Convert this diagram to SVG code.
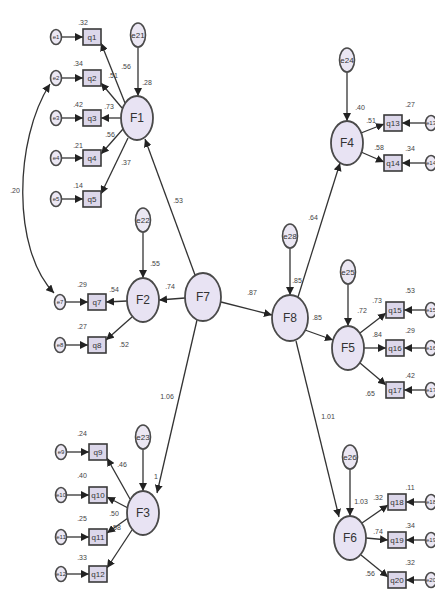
<svg xmlns="http://www.w3.org/2000/svg" width="435" height="596" viewBox="0 0 435 596">
<defs>
<marker id="ah" viewBox="0 0 10 10" refX="10" refY="5" markerWidth="8" markerHeight="8" orient="auto" markerUnits="userSpaceOnUse"><path d="M0,0 L10,5 L0,10 z" fill="#222"/></marker>
<marker id="ahs" viewBox="0 0 10 10" refX="0" refY="5" markerWidth="8" markerHeight="8" orient="auto" markerUnits="userSpaceOnUse"><path d="M10,0 L0,5 L10,10 z" fill="#222"/></marker>
</defs>
<style>
.lat{fill:#e8e3f3;stroke:#4a4a4a;stroke-width:1.8}
.err{fill:#ebe7f3;stroke:#4a4a4a;stroke-width:1.6}
.obs{fill:#dcd7ea;stroke:#3a3a3a;stroke-width:1.6}
.c line,.c path{stroke:#333;stroke-width:1.3;fill:none}
.lt{font-family:"Liberation Sans",Arial,sans-serif;font-size:12px;fill:#333;text-anchor:middle;dominant-baseline:central}
.st{font-family:"Liberation Sans",Arial,sans-serif;font-size:8px;fill:#333;text-anchor:middle;dominant-baseline:central}
.et{font-family:"Liberation Sans",Arial,sans-serif;font-size:6px;fill:#333;text-anchor:middle;dominant-baseline:central}
.lb{font-family:"Liberation Sans",Arial,sans-serif;font-size:7px;fill:#444;text-anchor:middle;dominant-baseline:central}
</style>
<rect width="435" height="596" fill="#fff"/>
<g class="c" id="connectors">
<line x1="61.5" y1="37" x2="83" y2="37" marker-end="url(#ah)"/>
<line x1="61.5" y1="78" x2="83" y2="78" marker-end="url(#ah)"/>
<line x1="61.5" y1="118" x2="83" y2="118" marker-end="url(#ah)"/>
<line x1="61.5" y1="158" x2="83" y2="158" marker-end="url(#ah)"/>
<line x1="61.5" y1="199" x2="83" y2="199" marker-end="url(#ah)"/>
<line x1="125" y1="103" x2="101" y2="43" marker-end="url(#ah)"/>
<line x1="122" y1="108" x2="101" y2="83" marker-end="url(#ah)"/>
<line x1="121" y1="118" x2="101" y2="118" marker-end="url(#ah)"/>
<line x1="123" y1="129" x2="101" y2="154" marker-end="url(#ah)"/>
<line x1="128" y1="138" x2="101" y2="194" marker-end="url(#ah)"/>
<line x1="138" y1="47" x2="138" y2="96" marker-end="url(#ah)"/>
<path d="M50,84 C14,140 12,250 54,293" marker-start="url(#ahs)" marker-end="url(#ah)"/>
<line x1="195" y1="275" x2="145" y2="139" marker-end="url(#ah)"/>
<line x1="185" y1="298" x2="159" y2="300" marker-end="url(#ah)"/>
<line x1="197" y1="320" x2="157" y2="493" marker-end="url(#ah)"/>
<line x1="221" y1="302" x2="272" y2="315" marker-end="url(#ah)"/>
<line x1="143" y1="232" x2="143" y2="278" marker-end="url(#ah)"/>
<line x1="127" y1="301" x2="106" y2="302" marker-end="url(#ah)"/>
<line x1="132" y1="317" x2="106" y2="340" marker-end="url(#ah)"/>
<line x1="65.5" y1="302" x2="88" y2="302" marker-end="url(#ah)"/>
<line x1="65.5" y1="345" x2="88" y2="345" marker-end="url(#ah)"/>
<line x1="143" y1="449" x2="143" y2="491" marker-end="url(#ah)"/>
<line x1="130" y1="499" x2="107" y2="458" marker-end="url(#ah)"/>
<line x1="128" y1="508" x2="107" y2="497" marker-end="url(#ah)"/>
<line x1="128" y1="518" x2="107" y2="533" marker-end="url(#ah)"/>
<line x1="132" y1="530" x2="107" y2="568" marker-end="url(#ah)"/>
<line x1="66.5" y1="452" x2="89" y2="452" marker-end="url(#ah)"/>
<line x1="66.5" y1="495" x2="89" y2="495" marker-end="url(#ah)"/>
<line x1="66.5" y1="537" x2="89" y2="537" marker-end="url(#ah)"/>
<line x1="66.5" y1="574" x2="89" y2="574" marker-end="url(#ah)"/>
<line x1="290" y1="248" x2="290" y2="295" marker-end="url(#ah)"/>
<line x1="298" y1="297" x2="340" y2="163" marker-end="url(#ah)"/>
<line x1="305" y1="330" x2="333" y2="340" marker-end="url(#ah)"/>
<line x1="296" y1="341" x2="339" y2="517" marker-end="url(#ah)"/>
<line x1="347" y1="72" x2="347" y2="121" marker-end="url(#ah)"/>
<line x1="361" y1="133" x2="384" y2="124" marker-end="url(#ah)"/>
<line x1="361" y1="152" x2="384" y2="162" marker-end="url(#ah)"/>
<line x1="425.5" y1="123" x2="402" y2="123" marker-end="url(#ah)"/>
<line x1="425.5" y1="163" x2="402" y2="163" marker-end="url(#ah)"/>
<line x1="348" y1="284" x2="348" y2="326" marker-end="url(#ah)"/>
<line x1="360" y1="333" x2="386" y2="313" marker-end="url(#ah)"/>
<line x1="364" y1="348" x2="386" y2="348" marker-end="url(#ah)"/>
<line x1="360" y1="363" x2="386" y2="385" marker-end="url(#ah)"/>
<line x1="425.5" y1="310" x2="404" y2="310" marker-end="url(#ah)"/>
<line x1="425.5" y1="348" x2="404" y2="348" marker-end="url(#ah)"/>
<line x1="425.5" y1="390" x2="404" y2="390" marker-end="url(#ah)"/>
<line x1="350" y1="469" x2="350" y2="516" marker-end="url(#ah)"/>
<line x1="362" y1="523" x2="388" y2="505" marker-end="url(#ah)"/>
<line x1="366" y1="538" x2="388" y2="540" marker-end="url(#ah)"/>
<line x1="361" y1="555" x2="388" y2="577" marker-end="url(#ah)"/>
<line x1="425.5" y1="502" x2="406" y2="502" marker-end="url(#ah)"/>
<line x1="425.5" y1="540" x2="406" y2="540" marker-end="url(#ah)"/>
<line x1="425.5" y1="580" x2="406" y2="580" marker-end="url(#ah)"/>
</g>
<g id="edge-labels">
<text class="lb" x="83" y="22">.32</text>
<text class="lb" x="126" y="66">.56</text>
<text class="lb" x="113" y="75">.51</text>
<text class="lb" x="147" y="82">.28</text>
<text class="lb" x="78" y="63">.34</text>
<text class="lb" x="78" y="104">.42</text>
<text class="lb" x="109" y="106">.73</text>
<text class="lb" x="78" y="145">.21</text>
<text class="lb" x="110" y="134">.56</text>
<text class="lb" x="78" y="185">.14</text>
<text class="lb" x="126" y="162">.37</text>
<text class="lb" x="15" y="190">.20</text>
<text class="lb" x="178" y="200">.53</text>
<text class="lb" x="155" y="263">.55</text>
<text class="lb" x="170" y="286">.74</text>
<text class="lb" x="82" y="284">.29</text>
<text class="lb" x="114" y="289">.54</text>
<text class="lb" x="82" y="326">.27</text>
<text class="lb" x="124" y="344">.52</text>
<text class="lb" x="167" y="396">1.06</text>
<text class="lb" x="156" y="476">1</text>
<text class="lb" x="82" y="433">.24</text>
<text class="lb" x="122" y="464">.46</text>
<text class="lb" x="82" y="475">.40</text>
<text class="lb" x="82" y="518">.25</text>
<text class="lb" x="114" y="513">.50</text>
<text class="lb" x="116" y="527">.58</text>
<text class="lb" x="82" y="557">.33</text>
<text class="lb" x="252" y="292">.87</text>
<text class="lb" x="297" y="280">.85</text>
<text class="lb" x="313" y="217">.64</text>
<text class="lb" x="360" y="107">.40</text>
<text class="lb" x="371" y="120">.51</text>
<text class="lb" x="379" y="147">.58</text>
<text class="lb" x="410" y="104">.27</text>
<text class="lb" x="410" y="148">.34</text>
<text class="lb" x="317" y="317">.85</text>
<text class="lb" x="362" y="310">.72</text>
<text class="lb" x="377" y="300">.73</text>
<text class="lb" x="377" y="334">.84</text>
<text class="lb" x="370" y="393">.65</text>
<text class="lb" x="410" y="290">.53</text>
<text class="lb" x="410" y="330">.29</text>
<text class="lb" x="410" y="375">.42</text>
<text class="lb" x="328" y="416">1.01</text>
<text class="lb" x="361" y="501">1.03</text>
<text class="lb" x="378" y="497">.32</text>
<text class="lb" x="378" y="531">.74</text>
<text class="lb" x="370" y="573">.56</text>
<text class="lb" x="410" y="487">.11</text>
<text class="lb" x="410" y="525">.34</text>
<text class="lb" x="410" y="562">.32</text>
</g>
<g id="F1"><ellipse class="lat" cx="137" cy="118" rx="16" ry="22"/><text class="lt" x="137" y="118">F1</text></g>
<g id="F2"><ellipse class="lat" cx="143" cy="300" rx="16" ry="22"/><text class="lt" x="143" y="300">F2</text></g>
<g id="F3"><ellipse class="lat" cx="143" cy="513" rx="16" ry="22"/><text class="lt" x="143" y="513">F3</text></g>
<g id="F7"><ellipse class="lat" cx="203" cy="297" rx="18" ry="24"/><text class="lt" x="203" y="297">F7</text></g>
<g id="F8"><ellipse class="lat" cx="290" cy="318" rx="18" ry="23"/><text class="lt" x="290" y="318">F8</text></g>
<g id="F4"><ellipse class="lat" cx="347" cy="143" rx="16" ry="22"/><text class="lt" x="347" y="143">F4</text></g>
<g id="F5"><ellipse class="lat" cx="348" cy="348" rx="16" ry="22"/><text class="lt" x="348" y="348">F5</text></g>
<g id="F6"><ellipse class="lat" cx="350" cy="538" rx="16" ry="22"/><text class="lt" x="350" y="538">F6</text></g>
<g id="e21"><ellipse class="err" cx="138" cy="35" rx="7.5" ry="12"/><text class="st" x="138" y="35">e21</text></g>
<g id="e22"><ellipse class="err" cx="143" cy="220" rx="7.5" ry="12"/><text class="st" x="143" y="220">e22</text></g>
<g id="e23"><ellipse class="err" cx="143" cy="437" rx="7.5" ry="12"/><text class="st" x="143" y="437">e23</text></g>
<g id="e28"><ellipse class="err" cx="290" cy="236" rx="7.5" ry="12"/><text class="st" x="290" y="236">e28</text></g>
<g id="e24"><ellipse class="err" cx="347" cy="60" rx="7.5" ry="12"/><text class="st" x="347" y="60">e24</text></g>
<g id="e25"><ellipse class="err" cx="348" cy="272" rx="7.5" ry="12"/><text class="st" x="348" y="272">e25</text></g>
<g id="e26"><ellipse class="err" cx="350" cy="457" rx="7.5" ry="12"/><text class="st" x="350" y="457">e26</text></g>
<g id="q1"><rect class="obs" x="83" y="29" width="18" height="16"/><text class="st" x="92" y="37">q1</text></g>
<g id="q2"><rect class="obs" x="83" y="70" width="18" height="16"/><text class="st" x="92" y="78">q2</text></g>
<g id="q3"><rect class="obs" x="83" y="110" width="18" height="16"/><text class="st" x="92" y="118">q3</text></g>
<g id="q4"><rect class="obs" x="83" y="150" width="18" height="16"/><text class="st" x="92" y="158">q4</text></g>
<g id="q5"><rect class="obs" x="83" y="191" width="18" height="16"/><text class="st" x="92" y="199">q5</text></g>
<g id="q7"><rect class="obs" x="88" y="294" width="18" height="16"/><text class="st" x="97" y="302">q7</text></g>
<g id="q8"><rect class="obs" x="88" y="337" width="18" height="16"/><text class="st" x="97" y="345">q8</text></g>
<g id="q9"><rect class="obs" x="89" y="444" width="18" height="16"/><text class="st" x="98" y="452">q9</text></g>
<g id="q10"><rect class="obs" x="89" y="487" width="18" height="16"/><text class="st" x="98" y="495">q10</text></g>
<g id="q11"><rect class="obs" x="89" y="529" width="18" height="16"/><text class="st" x="98" y="537">q11</text></g>
<g id="q12"><rect class="obs" x="89" y="566" width="18" height="16"/><text class="st" x="98" y="574">q12</text></g>
<g id="q13"><rect class="obs" x="384" y="115" width="18" height="16"/><text class="st" x="393" y="123">q13</text></g>
<g id="q14"><rect class="obs" x="384" y="155" width="18" height="16"/><text class="st" x="393" y="163">q14</text></g>
<g id="q15"><rect class="obs" x="386" y="302" width="18" height="16"/><text class="st" x="395" y="310">q15</text></g>
<g id="q16"><rect class="obs" x="386" y="340" width="18" height="16"/><text class="st" x="395" y="348">q16</text></g>
<g id="q17"><rect class="obs" x="386" y="382" width="18" height="16"/><text class="st" x="395" y="390">q17</text></g>
<g id="q18"><rect class="obs" x="388" y="494" width="18" height="16"/><text class="st" x="397" y="502">q18</text></g>
<g id="q19"><rect class="obs" x="388" y="532" width="18" height="16"/><text class="st" x="397" y="540">q19</text></g>
<g id="q20"><rect class="obs" x="388" y="572" width="18" height="16"/><text class="st" x="397" y="580">q20</text></g>
<g id="e1"><ellipse class="err" cx="56" cy="37" rx="5.5" ry="7.5"/><text class="et" x="56" y="37">e1</text></g>
<g id="e2"><ellipse class="err" cx="56" cy="78" rx="5.5" ry="7.5"/><text class="et" x="56" y="78">e2</text></g>
<g id="e3"><ellipse class="err" cx="56" cy="118" rx="5.5" ry="7.5"/><text class="et" x="56" y="118">e3</text></g>
<g id="e4"><ellipse class="err" cx="56" cy="158" rx="5.5" ry="7.5"/><text class="et" x="56" y="158">e4</text></g>
<g id="e5"><ellipse class="err" cx="56" cy="199" rx="5.5" ry="7.5"/><text class="et" x="56" y="199">e5</text></g>
<g id="e7"><ellipse class="err" cx="60" cy="302" rx="5.5" ry="7.5"/><text class="et" x="60" y="302">e7</text></g>
<g id="e8"><ellipse class="err" cx="60" cy="345" rx="5.5" ry="7.5"/><text class="et" x="60" y="345">e8</text></g>
<g id="e9"><ellipse class="err" cx="61" cy="452" rx="5.5" ry="7.5"/><text class="et" x="61" y="452">e9</text></g>
<g id="e10"><ellipse class="err" cx="61" cy="495" rx="5.5" ry="7.5"/><text class="et" x="61" y="495">e10</text></g>
<g id="e11"><ellipse class="err" cx="61" cy="537" rx="5.5" ry="7.5"/><text class="et" x="61" y="537">e11</text></g>
<g id="e12"><ellipse class="err" cx="61" cy="574" rx="5.5" ry="7.5"/><text class="et" x="61" y="574">e12</text></g>
<g id="e13"><ellipse class="err" cx="431" cy="123" rx="5.5" ry="7.5"/><text class="et" x="431" y="123">e13</text></g>
<g id="e14"><ellipse class="err" cx="431" cy="163" rx="5.5" ry="7.5"/><text class="et" x="431" y="163">e14</text></g>
<g id="e15"><ellipse class="err" cx="431" cy="310" rx="5.5" ry="7.5"/><text class="et" x="431" y="310">e15</text></g>
<g id="e16"><ellipse class="err" cx="431" cy="348" rx="5.5" ry="7.5"/><text class="et" x="431" y="348">e16</text></g>
<g id="e17"><ellipse class="err" cx="431" cy="390" rx="5.5" ry="7.5"/><text class="et" x="431" y="390">e17</text></g>
<g id="e18"><ellipse class="err" cx="431" cy="502" rx="5.5" ry="7.5"/><text class="et" x="431" y="502">e18</text></g>
<g id="e19"><ellipse class="err" cx="431" cy="540" rx="5.5" ry="7.5"/><text class="et" x="431" y="540">e19</text></g>
<g id="e20"><ellipse class="err" cx="431" cy="580" rx="5.5" ry="7.5"/><text class="et" x="431" y="580">e20</text></g>
</svg>
